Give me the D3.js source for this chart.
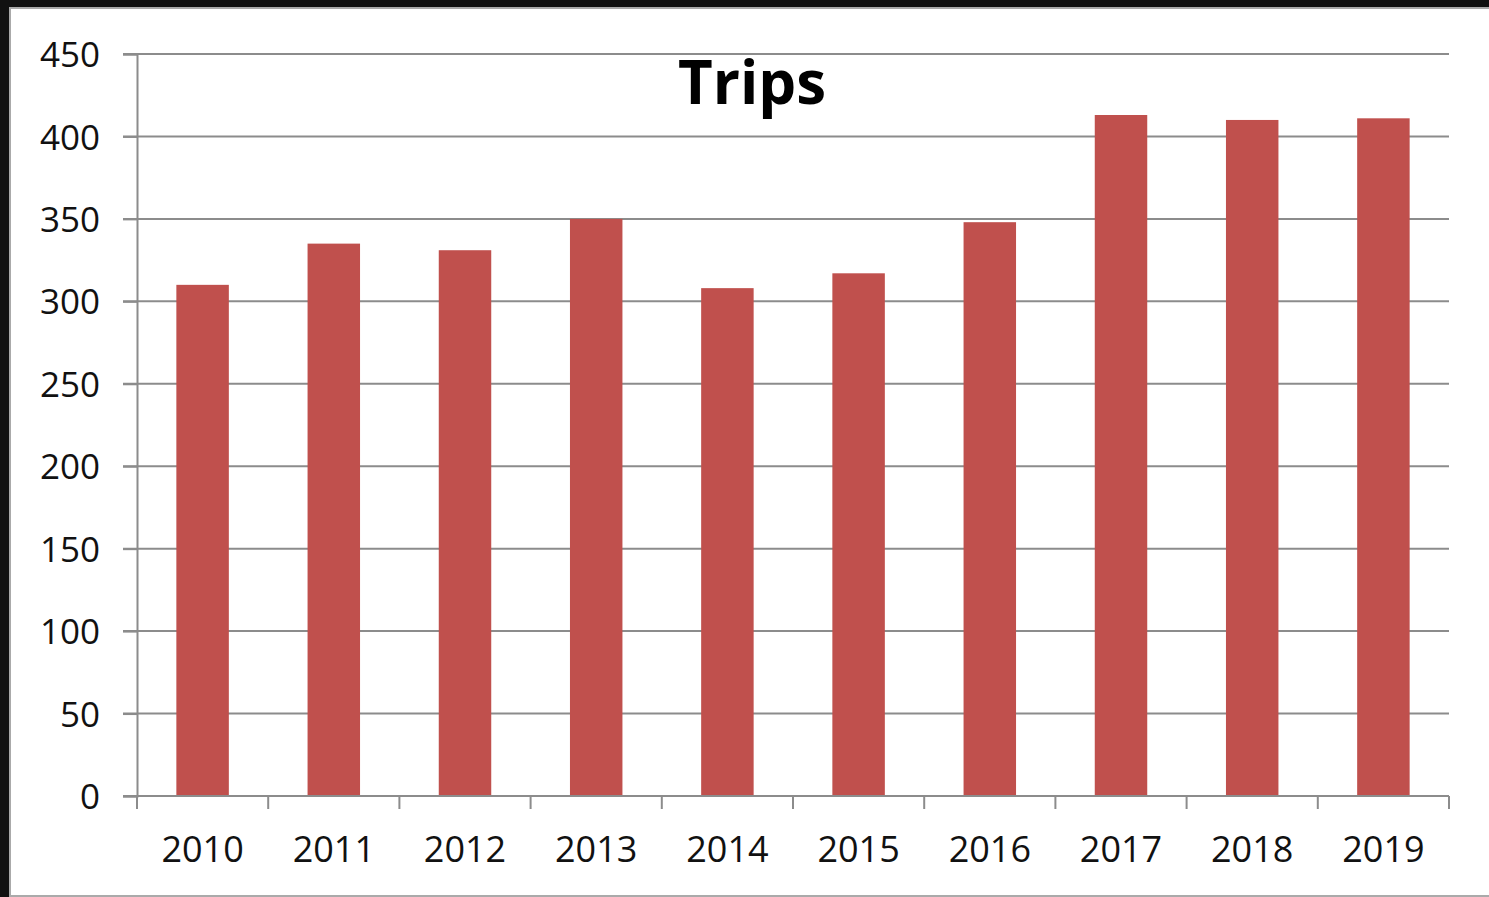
<!DOCTYPE html>
<html>
<head>
<meta charset="utf-8">
<script src="https://cdn.jsdelivr.net/npm/d3@7"></script>
<style>
  html, body { margin: 0; padding: 0; background: #111; overflow: hidden; }
  .chart { position: absolute; left: 0; top: 0; }
  .tick text { font-family: 'Open Sans', sans-serif; fill: #111; }
</style>
</head>
<body>
<div class="chart"></div>
<script>
const years = ['2010', '2011', '2012', '2013', '2014', '2015', '2016', '2017', '2018', '2019'];
const trips = [310, 335, 331, 350, 308, 317, 348, 413, 410, 411];
const yTicks = [0, 50, 100, 150, 200, 250, 300, 350, 400, 450];

const w = 1489;
const h = 897;
const plotLeft = 137;
const plotRight = 1449;
const plotTop = 54;
const plotBottom = 796;

const svg = d3
  .select('.chart')
  .append('svg')
  .attr('width', w)
  .attr('height', h);

// frame: dark outside, white panel running off the right edge
svg.append('rect').attr('x', 0).attr('y', 0).attr('width', w).attr('height', h).style('fill', '#111');
svg.append('rect').attr('x', 10).attr('y', 8).attr('width', w + 20).attr('height', 888)
  .style('fill', '#fff').style('stroke', '#aaa').style('stroke-width', 2);

const xScale = d3.scaleBand().domain(years).range([plotLeft, plotRight]).paddingInner(0.6).paddingOuter(0.3);
const xBand = d3.scaleBand().domain(years).range([plotLeft, plotRight]);
const yScale = d3.scaleLinear().domain([0, 450]).range([plotBottom, plotTop]);

// gridlines
svg
  .append('g')
  .selectAll('line')
  .data(yTicks.slice(1))
  .enter()
  .append('line')
  .attr('x1', plotLeft - 14)
  .attr('x2', plotRight)
  .attr('y1', (d) => yScale(d))
  .attr('y2', (d) => yScale(d))
  .style('stroke', '#8c8c8c')
  .style('stroke-width', 2);

// bars
svg
  .selectAll('rect.bar')
  .data(trips)
  .enter()
  .append('rect')
  .attr('class', 'bar')
  .attr('x', (d, i) => xScale(years[i]))
  .attr('y', (d) => yScale(d))
  .attr('width', xScale.bandwidth())
  .attr('height', (d) => plotBottom - yScale(d))
  .style('fill', '#c0504d');

// y axis
const yAxis = d3.axisLeft(yScale).tickValues(yTicks).tickSize(14).tickPadding(23);
const gy = svg.append('g').attr('transform', 'translate(' + plotLeft + ',0)').call(yAxis);
gy.select('.domain').style('stroke', '#8c8c8c').style('stroke-width', 2);
gy.selectAll('.tick line').style('stroke', '#8c8c8c').style('stroke-width', 2);
gy.selectAll('.tick text').style('font-size', '35px').attr('dy', '0.36em');

// x axis
const xAxis = d3.axisBottom(xBand).tickSize(0).tickPadding(40);
const gx = svg.append('g').attr('transform', 'translate(0,' + plotBottom + ')').call(xAxis);
gx.select('.domain').attr('d', 'M' + (plotLeft - 14) + ',0H' + plotRight).style('stroke', '#8c8c8c').style('stroke-width', 2);
gx.selectAll('.tick text').style('font-size', '36px');
gx
  .selectAll('line.sep')
  .data(years.concat(['end']))
  .enter()
  .append('line')
  .attr('class', 'sep')
  .attr('x1', (d, i) => plotLeft + i * xBand.bandwidth())
  .attr('x2', (d, i) => plotLeft + i * xBand.bandwidth())
  .attr('y1', 0)
  .attr('y2', 13)
  .style('stroke', '#8c8c8c')
  .style('stroke-width', 2);

// title
svg
  .append('text')
  .attr('x', 752)
  .attr('y', 104)
  .attr('text-anchor', 'middle')
  .style('font-family', "'Open Sans', sans-serif")
  .style('font-weight', 'bold')
  .style('font-size', '60px')
  .style('fill', '#000')
  .text('Trips');
</script>
</body>
</html>
